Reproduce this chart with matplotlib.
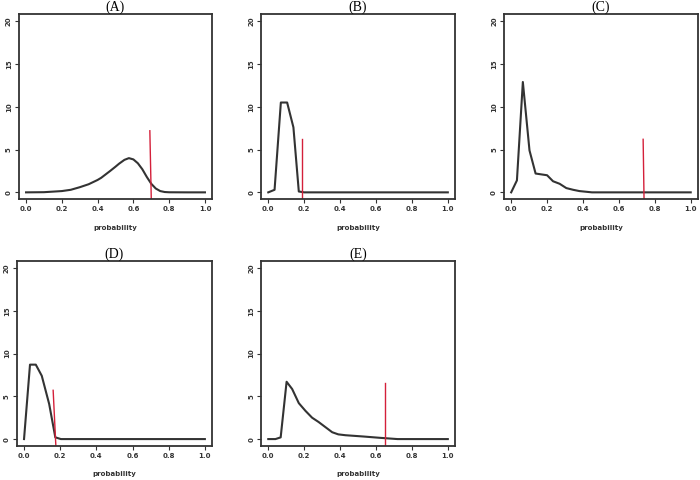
import numpy as np
import matplotlib.pyplot as plt

# density curves (x = probability, y = density)
a_x = [0.0, 0.1, 0.2, 0.25, 0.3, 0.35, 0.4, 0.42, 0.47, 0.5, 0.52, 0.55, 0.575, 0.6,
       0.625, 0.65, 0.675, 0.7, 0.725, 0.75, 0.775, 0.8, 0.9, 1.0]
a_y = [0.0, 0.02, 0.15, 0.3, 0.6, 0.95, 1.45, 1.7, 2.5, 3.0, 3.35, 3.8, 4.0, 3.85,
       3.4, 2.7, 1.8, 1.0, 0.45, 0.15, 0.04, 0.01, 0.0, 0.0]

b_x = [0.0, 0.035, 0.07, 0.105, 0.14, 0.17, 0.2, 0.4, 0.6, 0.8, 1.0]
b_y = [0.0, 0.3, 10.5, 10.5, 7.6, 0.1, 0.0, 0.0, 0.0, 0.0, 0.0]

c_x = [0.0, 0.032, 0.065, 0.102, 0.136, 0.2, 0.233, 0.27, 0.307, 0.345, 0.38, 0.45, 0.6, 0.8, 1.0]
c_y = [0.0, 1.4, 12.9, 4.9, 2.2, 2.0, 1.3, 1.0, 0.5, 0.3, 0.15, 0.0, 0.0, 0.0, 0.0]

d_x = [0.0, 0.033, 0.065, 0.098, 0.139, 0.173, 0.204, 0.4, 0.6, 0.8, 1.0]
d_y = [0.0, 8.7, 8.7, 7.4, 4.1, 0.2, 0.0, 0.0, 0.0, 0.0, 0.0]

e_x = [0.0, 0.04, 0.069, 0.102, 0.133, 0.17, 0.207, 0.244, 0.28, 0.318, 0.356, 0.39, 0.43, 0.53, 0.62, 0.72, 0.85, 1.0]
e_y = [0.0, 0.0, 0.2, 6.7, 5.85, 4.2, 3.3, 2.5, 2.0, 1.4, 0.8, 0.55, 0.45, 0.3, 0.15, 0.0, 0.0, 0.0]

# red marker lines: x at top, x at bottom, top height
red_top_x = [0.692, 0.19, 0.735, 0.161, 0.648]
red_bot_x = [0.70, 0.19, 0.74, 0.176, 0.648]
red_top_y = [7.2, 6.2, 6.2, 5.7, 6.55]

titles = ["(A)", "(B)", "(C)", "(D)", "(E)"]
curves = [(a_x, a_y), (b_x, b_y), (c_x, c_y), (d_x, d_y), (e_x, e_y)]

# axes boxes in figure fractions
boxes = [
    [0.027, 0.585, 0.276, 0.385],
    [0.373, 0.585, 0.277, 0.385],
    [0.720, 0.585, 0.277, 0.385],
    [0.024, 0.071, 0.279, 0.385],
    [0.373, 0.071, 0.277, 0.385],
]

fig = plt.figure(figsize=(7, 4.8), dpi=100)

for i in range(5):
    ax = fig.add_axes(boxes[i])
    x, y = curves[i]
    ax.plot(x, y, color="#333333", lw=1.5, solid_joinstyle="round")
    ax.plot([red_bot_x[i], red_top_x[i]], [-0.8, red_top_y[i]], color="#d4203a", lw=1.0)
    ax.set_xlim(-0.04, 1.04)
    ax.set_ylim(-0.8, 20.8)
    ax.set_xticks(np.arange(0, 1.01, 0.2))
    ax.set_xticklabels(["0.0", "0.2", "0.4", "0.6", "0.8", "1.0"])
    ax.set_yticks([0, 5, 10, 15, 20])
    ax.set_yticklabels(["0", "5", "10", "15", "20"], rotation=90, va="center")
    ax.tick_params(labelsize=5, length=3, width=0.8, color="#333333", pad=2)
    for lbl in ax.get_xticklabels() + ax.get_yticklabels():
        lbl.set_fontweight("bold")
        lbl.set_color("#333333")
    for s in ax.spines.values():
        s.set_linewidth(1.3)
        s.set_color("#333333")
    ax.set_xlabel("probability", fontsize=5, fontweight="bold", color="#333333", labelpad=9)
    ax.set_title(titles[i], fontsize=10, family="Liberation Serif", pad=1)

plt.savefig("out.png", dpi=100)
